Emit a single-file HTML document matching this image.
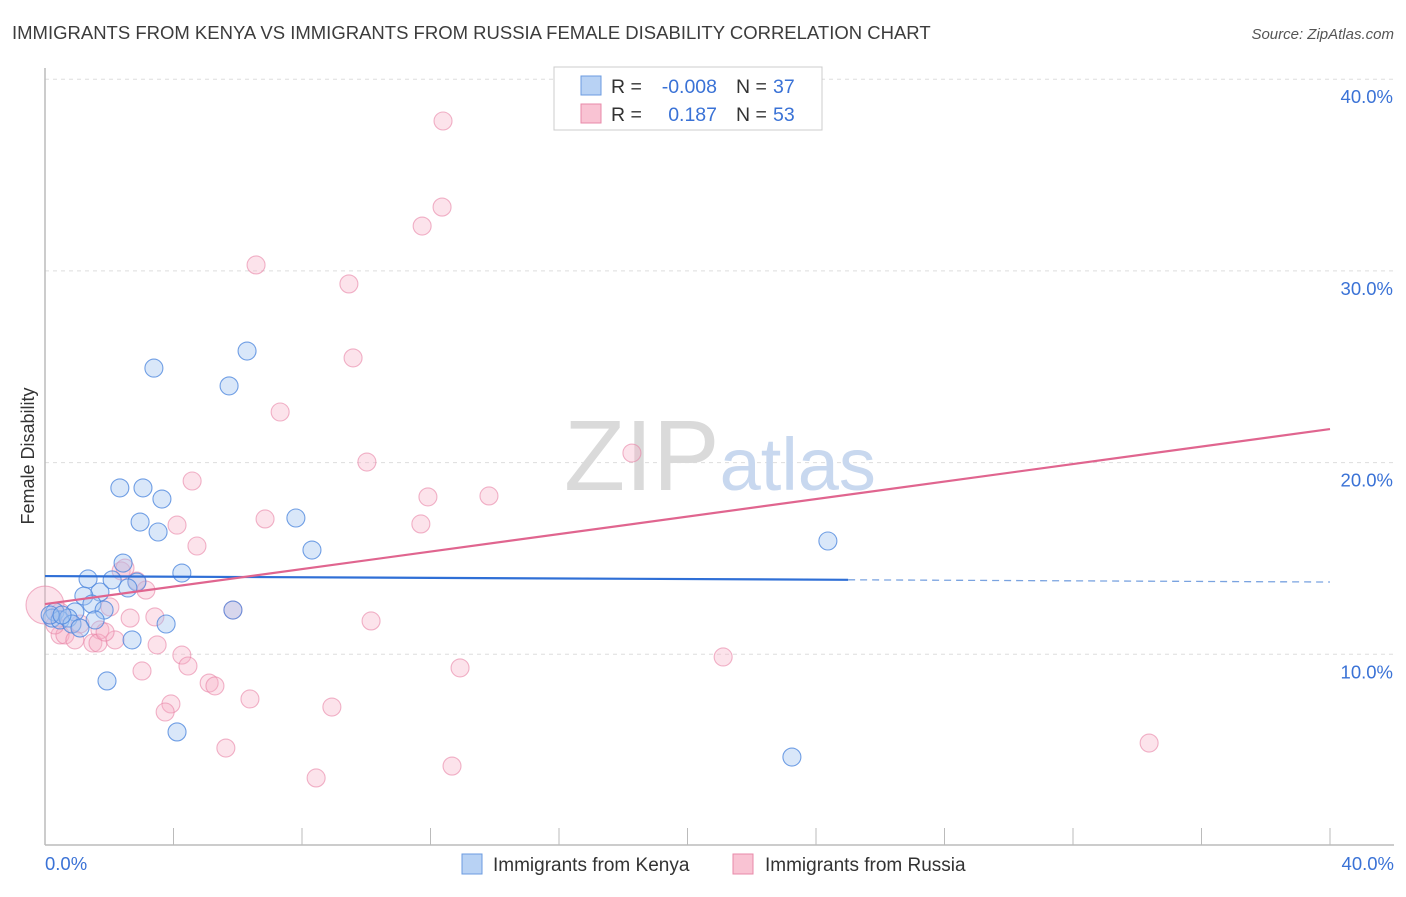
<!DOCTYPE html>
<html><head><meta charset="utf-8"><style>
body{margin:0;background:#fff;font-family:"Liberation Sans",sans-serif;}
svg text{font-family:"Liberation Sans",sans-serif;}
</style></head><body>
<svg id="chart" width="1406" height="892" viewBox="0 0 1406 892">
<text x="12" y="39" font-size="18.5" fill="#3c3c3c">IMMIGRANTS FROM KENYA VS IMMIGRANTS FROM RUSSIA FEMALE DISABILITY CORRELATION CHART</text>
<text x="1394" y="39" font-size="15" fill="#555" text-anchor="end" font-style="italic">Source: ZipAtlas.com</text>
<g id="grid"></g>
<text x="720" y="490" font-size="100" text-anchor="middle" font-family="Liberation Serif" fill="#dadada">ZIP<tspan fill="#c8d8ef" font-family="Liberation Sans" font-size="74">atlas</tspan></text>
<line x1="45" y1="68" x2="45" y2="845" stroke="#bbb" stroke-width="1.5"/>
<line x1="45" y1="845" x2="1394" y2="845" stroke="#bbb" stroke-width="1.5"/>
<text transform="translate(34,456) rotate(-90)" font-size="18" fill="#333" text-anchor="middle">Female Disability</text>
<g id="points"></g>
<g id="lines"></g>
<g>
<rect x="554" y="67" width="268" height="63" fill="#fff" stroke="#ccc"/>
<rect x="581" y="76" width="20" height="19" fill="#b8d2f4" stroke="#6b9be0"/>
<rect x="581" y="104" width="20" height="19" fill="#f9c3d3" stroke="#e889a8"/>
<text x="611" y="93" font-size="19.5" fill="#333">R =</text>
<text x="717" y="93" font-size="19.5" fill="#3a72d6" text-anchor="end">-0.008</text>
<text x="736" y="93" font-size="19.5" fill="#333">N =</text>
<text x="773" y="93" font-size="19.5" fill="#3a72d6">37</text>
<text x="611" y="121" font-size="19.5" fill="#333">R =</text>
<text x="717" y="121" font-size="19.5" fill="#3a72d6" text-anchor="end">0.187</text>
<text x="736" y="121" font-size="19.5" fill="#333">N =</text>
<text x="773" y="121" font-size="19.5" fill="#3a72d6">53</text>
</g>
<g>
<rect x="462" y="854" width="20" height="20" fill="#b8d2f4" stroke="#6b9be0"/>
<text x="493" y="871" font-size="19" fill="#333">Immigrants from Kenya</text>
<rect x="733" y="854" width="20" height="20" fill="#f9c3d3" stroke="#e889a8"/>
<text x="765" y="871" font-size="19" fill="#333">Immigrants from Russia</text>
</g>
</svg>
<script>
const yTicks=[10,20,30,40];
const yTickLabels=["10.0%","20.0%","30.0%","40.0%"];
const xTickLabels=["0.0%","40.0%"];
const kenyaX=[3.39,6.29,5.73,2.33,3.05,3.64,2.96,3.52,7.81,8.31,24.37,2.43,4.26,1.34,2.86,2.58,1.71,1.21,1.46,1.84,0.93,0.31,0.22,0.47,0.72,0.84,1.56,1.09,5.85,3.77,2.71,1.93,4.11,23.25,0.16,0.53,2.09];
const kenyaY=[24.93,25.82,24.0,18.68,18.68,18.1,16.9,16.38,17.11,15.44,15.91,14.76,14.24,13.93,13.77,13.46,13.25,13.04,12.62,12.31,12.21,12.21,11.89,11.79,11.89,11.58,11.79,11.37,12.31,11.58,10.75,8.61,5.95,4.64,12.05,12.05,13.88];
const russiaX=[12.39,12.36,11.74,6.57,9.46,9.59,7.32,18.27,10.02,4.58,13.82,11.92,4.11,6.85,11.70,4.73,2.37,2.49,2.86,3.14,2.02,5.85,2.65,3.42,10.15,0.47,1.09,1.71,0.47,0.62,0.93,1.49,1.65,2.18,3.49,4.26,4.45,12.92,21.11,3.02,5.11,5.29,6.38,3.92,3.74,8.93,5.63,34.37,12.67,8.44,0.0,1.87,0.31];
const russiaY=[37.82,33.33,32.34,30.31,29.32,25.46,22.64,20.50,20.03,19.04,18.26,18.21,16.74,17.06,16.80,15.65,14.35,14.50,13.82,13.35,12.47,12.31,11.89,11.95,11.74,12.21,11.58,11.27,11.01,11.01,10.75,10.59,10.59,10.75,10.49,9.96,9.39,9.29,9.86,9.13,8.50,8.35,7.67,7.41,6.99,7.25,5.11,5.37,4.17,3.55,12.57,11.16,11.53];
const kenyaTrend=[14.08,13.77];
const russiaTrend=[12.62,21.75];
const kenyaSolidEnd=25.0;

const NS="http://www.w3.org/2000/svg";
const sx=v=>45+v/40*1285;
const sy=v=>846-v*19.17;
function mk(tag,attrs,parent){const e=document.createElementNS(NS,tag);for(const k in attrs)e.setAttribute(k,attrs[k]);parent.appendChild(e);return e;}
const grid=document.getElementById('grid');
yTicks.forEach((t,i)=>{
  const l=mk('line',{x1:45,x2:1394,y1:sy(t),y2:sy(t),stroke:'#ddd','stroke-dasharray':'4,4'},grid);
  
  
  const tx=mk('text',{x:1393,y:sy(t)+24,'font-size':18.5,fill:'#3a72d6','text-anchor':'end'},grid);
  tx.textContent=yTickLabels[i];
  
  
});
for(let i=0;i<=10;i++){
  const l=mk('line',{x1:sx(i*4),x2:sx(i*4),y1:828,y2:845,stroke:'#bbb'},grid);
  
  
}
[[0,'start',45],[40,'end',1394]].forEach((d,i)=>{
  const tx=mk('text',{x:d[2],y:870,'font-size':18.5,fill:'#3a72d6','text-anchor':d[1]},grid);
  tx.textContent=xTickLabels[i];
  
  
});
const pts=document.getElementById('points');
russiaX.forEach((x,i)=>{
  const r=(x===0)?19:9;
  const c=mk('circle',{cx:sx(x),cy:sy(russiaY[i]),r:r,fill:'rgba(247,175,198,0.35)',stroke:'rgba(232,130,165,0.6)','stroke-width':1.1},pts);
  
  
});
kenyaX.forEach((x,i)=>{
  const c=mk('circle',{cx:sx(x),cy:sy(kenyaY[i]),r:9,fill:'rgba(160,195,240,0.4)',stroke:'rgba(70,130,220,0.75)','stroke-width':1.1},pts);
  
  
});
const ln=document.getElementById('lines');
const ky=x=>kenyaTrend[0]+(kenyaTrend[1]-kenyaTrend[0])*x/40;
let a=mk('line',{x1:sx(0),y1:sy(ky(0)),x2:sx(kenyaSolidEnd),y2:sy(ky(kenyaSolidEnd)),stroke:'#2f6fd6','stroke-width':2.2},ln);


a=mk('line',{x1:sx(kenyaSolidEnd),y1:sy(ky(kenyaSolidEnd)),x2:sx(40),y2:sy(ky(40)),stroke:'#7aa3e0','stroke-width':1.3,'stroke-dasharray':'7,5'},ln);


a=mk('line',{x1:sx(0),y1:sy(russiaTrend[0]),x2:sx(40),y2:sy(russiaTrend[1]),stroke:'#e0658f','stroke-width':2.2},ln);


</script>
</body></html>
